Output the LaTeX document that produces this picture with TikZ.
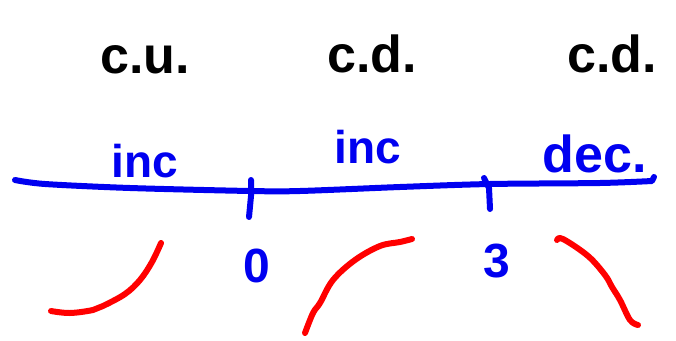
\documentclass[tikz,border=0pt]{standalone}
\usepackage{fontspec}
\setmainfont{Liberation Sans}
\definecolor{penblue}{RGB}{0,0,240}
\definecolor{penred}{RGB}{255,0,0}
\begin{document}
\begin{tikzpicture}[x=1pt,y=-1pt,
  ink/.style={line width=6pt,line cap=round,line join=round},
  blackword/.style={anchor=base,font=\fontsize{52}{52}\selectfont\bfseries,text=black,inner sep=0pt},
  blueword/.style={anchor=base,font=\fontsize{46}{46}\selectfont\bfseries,text=penblue,inner sep=0pt},
  digit/.style={anchor=base,font=\fontsize{48}{48}\selectfont\bfseries,text=penblue,inner sep=0pt}]
\useasboundingbox (0,0) rectangle (676,340);
% concavity labels
\node[blackword] (cu) at (145,73) {c.u.};
\node[blackword] (cd1) at (372,72) {c.d.};
\node[blackword] (cd2) at (612,72) {c.d.};
% monotonicity labels
\node[blueword] (inc1) at (145,177) {inc};
\node[blueword] (inc2) at (368,163) {inc};
\node[blueword,font=\fontsize{52}{52}\selectfont\bfseries] (dec) at (595,172) {dec.};
% number line
\draw[ink,penblue] plot[smooth,tension=0.5] coordinates {(15,180) (45,184) (130,188) (250,191) (300,191) (400,187) (490,184) (600,183) (652,181)} -- (654,177);
\draw[ink,penblue] (251,180) -- (251,196) -- (249,217);
\draw[ink,penblue] (484,178) -- (489,188) -- (490,209);
\node[digit] (zero) at (257,282) {0};
\node[digit] (three) at (497,277) {3};
% red sketches
\draw[ink,penred] plot[smooth,tension=0.6] coordinates {(51,311) (70,313) (93,310) (103,306) (125,294) (140,280) (152,262) (161,243)};
\draw[ink,penred] plot[smooth,tension=0.6] coordinates {(305,333) (313,313) (320,303) (333,280) (355,260) (380,246) (400,242) (412,239)};
\draw[ink,penred] plot[smooth,tension=0.6] coordinates {(557,240) (563,239) (588,256) (605,275) (612,287) (620,300) (630,320) (638,325)};
\end{tikzpicture}
\end{document}
